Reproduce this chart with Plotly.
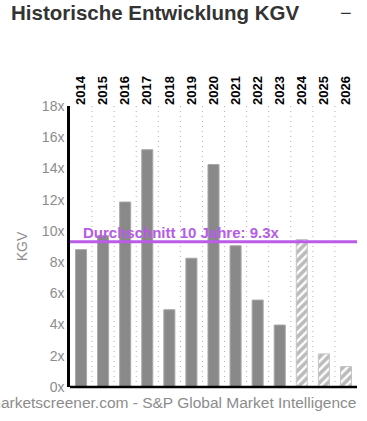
import plotly.graph_objects as go

years = ["2014", "2015", "2016", "2017", "2018", "2019", "2020",
         "2021", "2022", "2023", "2024", "2025", "2026"]
kgv = [8.8, 9.7, 11.85, 15.2, 4.95, 8.25, 14.25, 9.05, 5.57, 3.97, 9.45, 2.12, 1.31]
is_estimate = [False] * 10 + [True] * 3
average = 9.3
avg_label = "Durchschnitt 10 Jahre: 9.3x"
y_ticks = [0, 2, 4, 6, 8, 10, 12, 14, 16, 18]
y_tick_text = [f"{v}x" for v in y_ticks]

x_idx = list(range(len(years)))
FONT = "Liberation Sans, Arial, sans-serif"

fig = go.Figure()
fig.add_trace(go.Bar(
    x=[i for i, e in zip(x_idx, is_estimate) if not e],
    y=[v for v, e in zip(kgv, is_estimate) if not e],
    width=0.5,
    marker=dict(color="#898989", line=dict(color="#a8a8a8", width=1)),
    showlegend=False,
))
fig.add_trace(go.Bar(
    x=[i for i, e in zip(x_idx, is_estimate) if e],
    y=[v for v, e in zip(kgv, is_estimate) if e],
    width=0.5,
    marker=dict(color="white", line=dict(color="#c4c4c4", width=1),
                pattern=dict(shape="/", fgcolor="#777777", bgcolor="white",
                             size=6, solidity=0.6)),
    showlegend=False,
))

shapes = []
for i in range(len(years) - 1):
    shapes.append(dict(type="line", xref="x", yref="paper",
                       x0=i + 0.5, x1=i + 0.5, y0=0, y1=1,
                       line=dict(color="#b0b0b0", width=1, dash="1px,4px"),
                       layer="below"))
shapes.append(dict(type="line", xref="paper", yref="y", x0=0, x1=1,
                   y0=average, y1=average,
                   line=dict(color="#bb5ce9", width=3)))
shapes.append(dict(type="line", xref="paper", yref="paper", x0=0, x1=1,
                   y0=0, y1=0, line=dict(color="black", width=2.5)))

fig.update_layout(
    width=367, height=421,
    margin=dict(l=70, r=10, t=106, b=34),
    paper_bgcolor="white", plot_bgcolor="white",
    font=dict(family=FONT),
    bargap=0.5,
    shapes=shapes,
    xaxis=dict(
        side="top", tickmode="array", tickvals=x_idx,
        ticktext=[f"<b>{y}</b>" for y in years],
        tickangle=-90, range=[-0.5, len(years) - 0.5],
        tickfont=dict(size=13, color="black", family=FONT),
        showgrid=False, showline=False, ticks="", zeroline=False,
        automargin=False,
    ),
    yaxis=dict(
        range=[0, 18], tickvals=y_ticks, ticktext=y_tick_text,
        tickfont=dict(size=14, color="#8c8c8c"),
        showgrid=False, zeroline=False,
        showline=True, linecolor="black", linewidth=2.5,
        title=dict(text="KGV", font=dict(size=14, color="#8c8c8c"), standoff=11),
        automargin=False,
    ),
    annotations=[
        dict(text="<b>Historische Entwicklung KGV</b>", xref="paper", yref="paper",
             x=-70 / 287, y=1, yanchor="top", xanchor="left",
             yshift=107, xshift=9, showarrow=False,
             font=dict(size=20.5, color="#333333")),
        dict(text="−", xref="paper", yref="paper", x=1, y=1, xanchor="center",
             yanchor="top", yshift=106, xshift=-11, showarrow=False,
             font=dict(size=20, color="#333333")),
        dict(text=f"<b>{avg_label}</b>", xref="paper", yref="y", x=0, y=average,
             xanchor="left", yanchor="bottom", xshift=11, yshift=-1,
             showarrow=False, font=dict(size=15, color="#b65ce6")),
        dict(text="marketscreener.com - S&P Global Market Intelligence",
             xref="paper", yref="paper", x=1, y=0, xanchor="right", yanchor="top",
             yshift=-5, xshift=1, showarrow=False,
             font=dict(size=15.5, color="#8c8c8c")),
    ],
)

fig.write_html("out.html", config={"displayModeBar": False},
               post_script="document.body.style.margin='0';")
